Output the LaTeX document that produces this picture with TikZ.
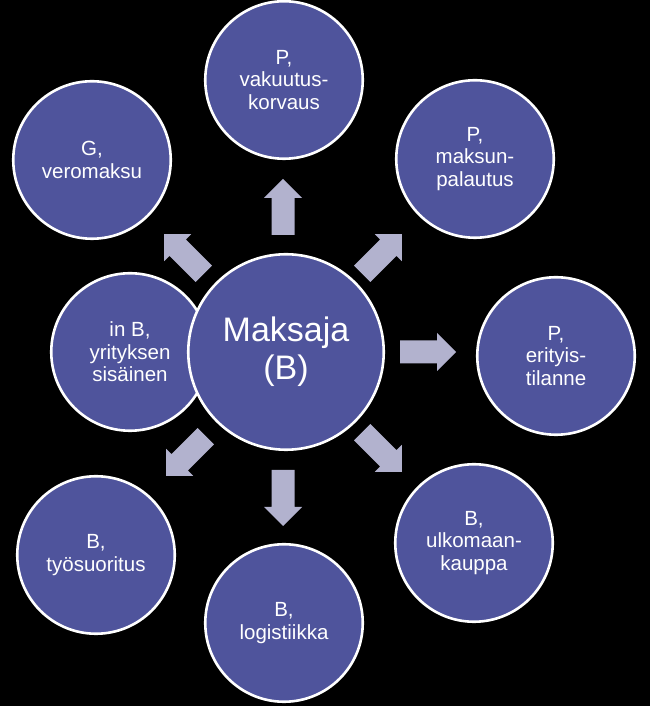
\documentclass[tikz,border=0pt]{standalone}
\usepackage{fontspec}
\setmainfont{Liberation Sans}
\definecolor{circfill}{RGB}{79,84,156}
\definecolor{arrowfill}{RGB}{178,178,206}
\tikzset{
  circ/.style={circle, draw=white, line width=2.6pt, fill=circfill, text=white,
    minimum size=157.5pt, inner sep=0pt, align=center,
    font=\fontsize{20.5}{22.5}\selectfont},
  bigcirc/.style={circ, minimum size=195.5pt, font=\fontsize{34}{38}\selectfont},
  blockarrow/.pic={\fill[arrowfill] (-28,-11.5) -- (9,-11.5) -- (9,-19) -- (28,0) -- (9,19) -- (9,11.5) -- (-28,11.5) -- cycle;}
}
\begin{document}
\begin{tikzpicture}[x=1pt,y=1pt]
\fill[black] (0,0) rectangle (650,706);
\useasboundingbox (0,0) rectangle (650,706);
% arrows
\pic[rotate=90] at (283,499) {blockarrow};
\pic[rotate=45] at (382,452) {blockarrow};
\pic[rotate=0] at (428,354) {blockarrow};
\pic[rotate=-45] at (382,254) {blockarrow};
\pic[rotate=-90] at (283,208) {blockarrow};
\pic[rotate=-135] at (186,250) {blockarrow};
\pic[rotate=135] at (184,452) {blockarrow};
% outer circles
\node[circ] (vak) at (284,626) {P,\\vakuutus-\\korvaus};
\node[circ] (vero) at (92,546) {G,\\veromaksu};
\node[circ] (pal) at (475,547) {P,\\maksun-\\palautus};
\node[circ] (eri) at (556,350) {P,\\erityis-\\tilanne};
\node[circ] (ulko) at (474,163) {B,\\ulkomaan-\\kauppa};
\node[circ] (log) at (284,83) {B,\\logistiikka};
\node[circ] (tyo) at (96,151) {B,\\työsuoritus};
\node[circ] (inb) at (130,354) {in B,\\yrityksen\\sisäinen};
% centre
\node[bigcirc] (maks) at (286,354) {Maksaja\\(B)};
\end{tikzpicture}
\end{document}
